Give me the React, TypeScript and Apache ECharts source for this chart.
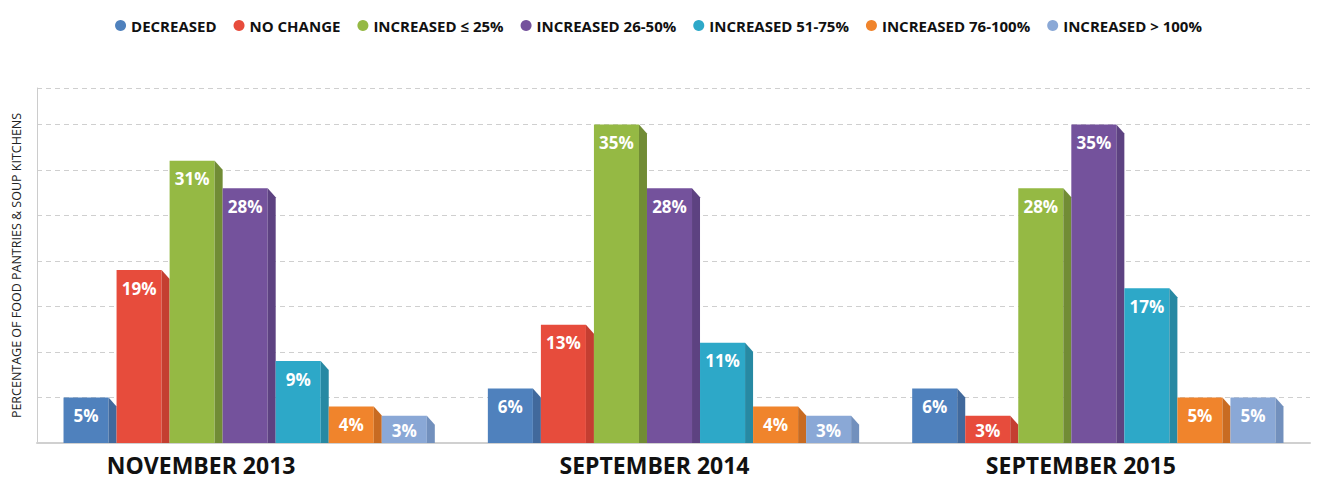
import React, { useEffect, useRef } from "react";
import * as echarts from "echarts";

const categories = ["NOVEMBER 2013", "SEPTEMBER 2014", "SEPTEMBER 2015"];
const seriesNames = [
  "DECREASED",
  "NO CHANGE",
  "INCREASED ≤ 25%",
  "INCREASED 26-50%",
  "INCREASED 51-75%",
  "INCREASED 76-100%",
  "INCREASED > 100%",
];
const decreased = [5, 6, 6];
const noChange = [19, 13, 3];
const increased25 = [31, 35, 28];
const increased50 = [28, 28, 35];
const increased75 = [9, 11, 17];
const increased100 = [4, 4, 5];
const increasedOver100 = [3, 3, 5];
const seriesValues = [decreased, noChange, increased25, increased50, increased75, increased100, increasedOver100];

const faceColors = ["#4f81bd", "#e74c3c", "#95b944", "#74529c", "#2da8c8", "#f0842c", "#8aa8d6"];
const sideColors = ["#41699c", "#c43e31", "#718c35", "#5d4281", "#2789a3", "#c86b22", "#7290bd"];

const CAT_GAP = 0.125;
const SIDE = 8;

export default function App() {
  const ref = useRef<HTMLDivElement>(null);
  useEffect(() => {
    if (!ref.current) return;
    const chart = echarts.init(ref.current, null, { renderer: "svg" });
    const n = seriesNames.length;
    const series = seriesNames.map((name, si) => ({
      type: "custom",
      name,
      itemStyle: { color: faceColors[si] },
      encode: { x: 0, y: 1 },
      data: seriesValues[si].map((v, ci) => [ci, v]),
      renderItem: (params: any, api: any) => {
        const ci = api.value(0);
        const v = api.value(1);
        const p = api.coord([ci, v]);
        const b = api.coord([ci, 0]);
        const band = api.size([1, 0])[0];
        const gw = band * (1 - CAT_GAP);
        const slot = gw / n;
        const x0 = p[0] - gw / 2 + params.seriesIndex * slot;
        const fw = slot - SIDE;
        const top = p[1];
        const base = b[1];
        const h = base - top;
        const ch = Math.min(9, h);
        return {
          type: "group",
          children: [
            {
              type: "rect",
              shape: { x: x0, y: top, width: fw, height: h },
              style: { fill: faceColors[params.seriesIndex] },
            },
            {
              type: "polygon",
              shape: {
                points: [
                  [x0 + fw, top],
                  [x0 + slot, top + ch],
                  [x0 + slot, base],
                  [x0 + fw, base],
                ],
              },
              style: { fill: sideColors[params.seriesIndex] },
            },
            {
              type: "text",
              x: x0 + fw / 2,
              y: top + Math.min(18, h / 2 + 1),
              style: {
                text: v + "%",
                fill: "#ffffff",
                fontSize: 17,
                fontWeight: "bold",
                fontFamily: "Open Sans",
                align: "center",
                verticalAlign: "middle",
              },
            },
          ],
        };
      },
    }));

    const xl = (pr: number) => ({
      fontSize: 23,
      lineHeight: 24,
      fontWeight: "bold",
      color: "#111",
      fontFamily: "Open Sans",
      padding: [0, pr, 0, 0],
    });

    chart.setOption({
      animation: false,
      textStyle: { fontFamily: "Open Sans" },
      legend: {
        top: 13,
        left: "center",
        icon: "circle",
        itemWidth: 11,
        itemHeight: 11,
        itemGap: 17,
        textStyle: { fontSize: 15, fontWeight: "bold", color: "#111", fontFamily: "Open Sans" },
        data: seriesNames,
      },
      grid: { left: 37, right: 7, top: 88, bottom: 38, outerBoundsMode: "none" },
      xAxis: {
        type: "category",
        data: categories,
        axisLine: { show: true, lineStyle: { color: "#d0d0d0", width: 2 } },
        axisTick: { show: false },
        axisLabel: {
          margin: 10,
          formatter: (val: string, idx: number) => `{l${idx}|${val}}`,
          rich: { l0: xl(96), l1: xl(38), l2: xl(34) },
        },
      },
      yAxis: {
        type: "value",
        min: 0,
        max: 39,
        interval: 5,
        name: "PERCENTAGE OF FOOD PANTRIES & SOUP KITCHENS",
        nameLocation: "middle",
        nameRotate: 90,
        nameGap: 14,
        nameTextStyle: { fontSize: 12.5, color: "#222", fontFamily: "Open Sans" },
        axisLine: { show: true, lineStyle: { color: "#cccccc", width: 1 } },
        axisTick: { show: false },
        axisLabel: { show: false },
        splitLine: { show: true, lineStyle: { color: "#cfcfcf", type: [5, 4], width: 1 } },
      },
      series,
    });
    return () => chart.dispose();
  }, []);
  return (
    <div
      ref={ref}
      style={{ position: "fixed", left: 0, top: 0, width: 1317, height: 481, background: "#fff" }}
    />
  );
}
